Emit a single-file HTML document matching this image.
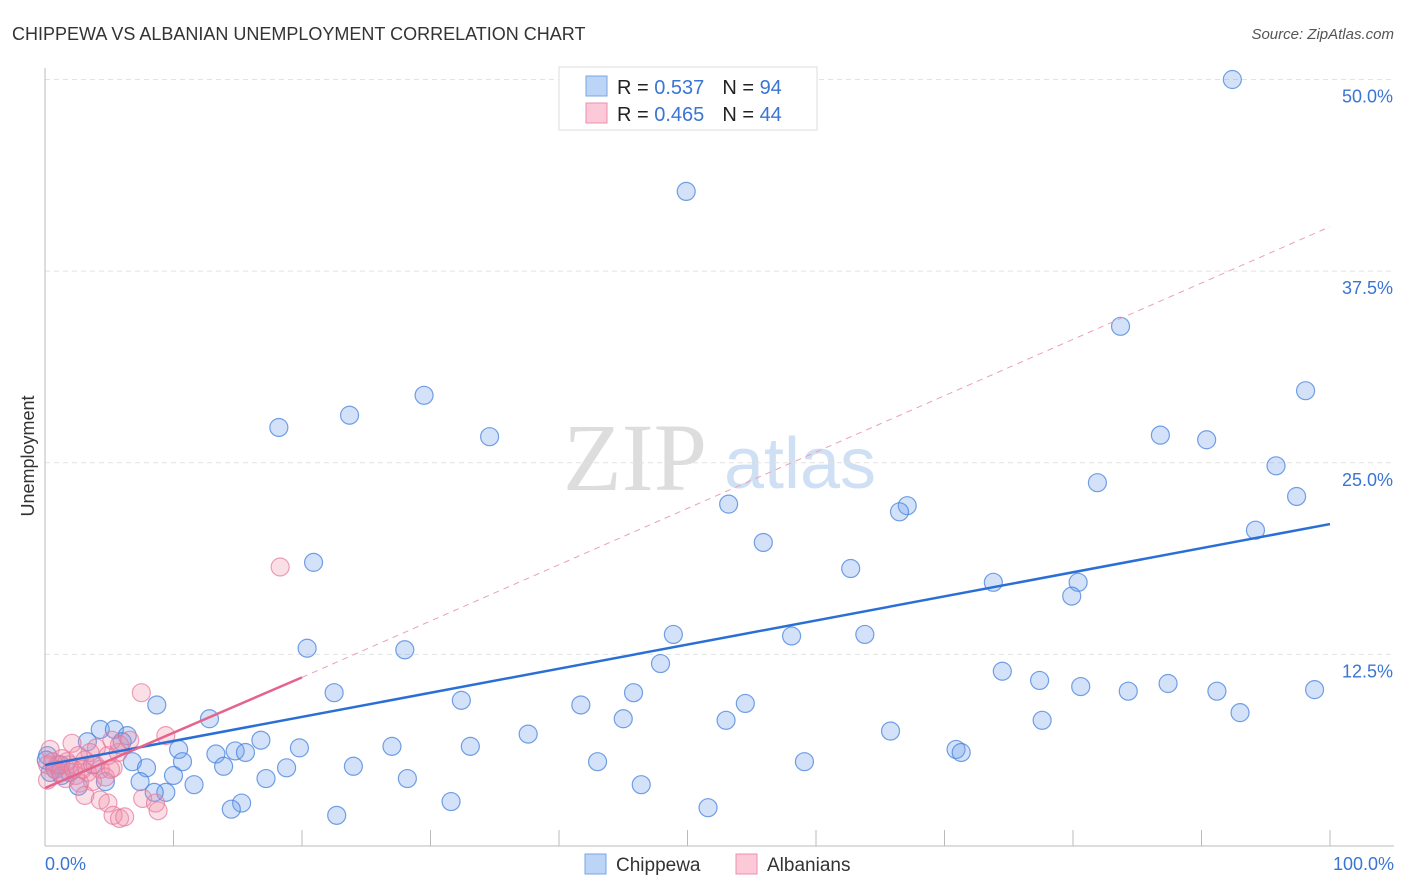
<!DOCTYPE html>
<html><head><meta charset="utf-8"><style>
body{margin:0;background:#fff;font-family:"Liberation Sans",sans-serif;}
svg{display:block}
</style></head><body>
<svg id="chart" width="1406" height="892">
<text x="12" y="40" font-size="18" fill="#333">CHIPPEWA VS ALBANIAN UNEMPLOYMENT CORRELATION CHART</text>
<text x="1394" y="39" font-size="15" fill="#555" font-style="italic" text-anchor="end">Source: ZipAtlas.com</text>
<text x="34" y="456" font-size="18" fill="#333" transform="rotate(-90 34 456)" text-anchor="middle">Unemployment</text>
<g>
<text x="635" y="490" font-size="96" font-family="Liberation Serif,serif" fill="#ddd" text-anchor="middle">ZIP</text>
<text x="800" y="488" font-size="72" fill="#cfe0f5" text-anchor="middle">atlas</text>
</g>
<g id="grid"></g>
<g id="marks"></g>
<g id="lines"></g>
<g>
<rect x="559" y="67" width="258" height="63" fill="#fff" stroke="#ddd"/>
<rect x="586" y="76" width="21" height="20" fill="#bcd4f5" stroke="#7aa6e6"/>
<text x="617" y="94" font-size="20" fill="#222">R = <tspan fill="#3a75d4">0.537</tspan><tspan dx="18">N = </tspan><tspan fill="#3a75d4">94</tspan></text>
<rect x="586" y="103" width="21" height="20" fill="#fbc9d8" stroke="#ec8fae"/>
<text x="617" y="121" font-size="20" fill="#222">R = <tspan fill="#3a75d4">0.465</tspan><tspan dx="18">N = </tspan><tspan fill="#3a75d4">44</tspan></text>
</g>
<g>
<rect x="585" y="854" width="21" height="20" fill="#bcd4f5" stroke="#7aa6e6"/>
<text x="616" y="871" font-size="19" fill="#333">Chippewa</text>
<rect x="736" y="854" width="21" height="20" fill="#fbc9d8" stroke="#ec8fae"/>
<text x="767" y="871" font-size="19" fill="#333">Albanians</text>
</g>
<text x="45" y="870" font-size="18" fill="#3a75d4">0.0%</text>
<text x="1394" y="870" font-size="18" fill="#3a75d4" text-anchor="end">100.0%</text>
</svg>
<script>
const yTicks=[12.5,25,37.5,50];
const yTickLabels=["12.5%","25.0%","37.5%","50.0%"];
const xTicks=[0,10,20,30,40,50,60,70,80,90,100];
const blueX=[92.4,49.9,83.7,98.1,29.5,23.7,18.2,34.6,86.8,90.4,95.8,81.9,97.4,53.2,67.1,66.5,94.2,55.9,20.9,62.7,73.8,80.4,79.9,48.9,58.1,63.8,20.4,28.0,47.9,74.5,77.4,80.6,84.3,87.4,91.2,98.8,22.5,45.8,32.4,41.7,54.5,8.7,93.0,12.8,45.0,53.0,77.6,65.8,37.6,16.8,4.3,5.4,6.4,6.0,3.3,10.4,27.0,19.8,33.1,13.3,14.8,15.6,70.9,71.3,10.7,13.9,43.0,59.1,6.8,7.9,24.0,18.8,10.0,17.2,28.2,7.4,11.6,46.4,2.6,4.7,9.4,8.5,15.3,14.5,31.6,51.6,22.7,0.2,0.8,1.3,1.9,0.4,3.7,1.2,0.1];
const blueY=[50.0,42.7,33.9,29.7,29.4,28.1,27.3,26.7,26.8,26.5,24.8,23.7,22.8,22.3,22.2,21.8,20.6,19.8,18.5,18.1,17.2,17.2,16.3,13.8,13.7,13.8,12.9,12.8,11.9,11.4,10.8,10.4,10.1,10.6,10.1,10.2,10.0,10.0,9.5,9.2,9.3,9.2,8.7,8.3,8.3,8.2,8.2,7.5,7.3,6.9,7.6,7.6,7.2,6.8,6.8,6.3,6.5,6.4,6.5,6.0,6.2,6.1,6.3,6.1,5.5,5.2,5.5,5.5,5.5,5.1,5.2,5.1,4.6,4.4,4.4,4.2,4.0,4.0,3.9,4.2,3.5,3.5,2.8,2.4,2.9,2.5,2.0,5.9,5.0,4.6,4.8,4.8,5.3,5.3,5.6];
const pinkX=[18.3,7.5,9.4,6.6,4.0,2.1,3.1,4.9,5.7,1.3,0.4,0.2,0.8,1.6,2.4,3.3,4.3,5.3,2.7,3.7,4.7,3.1,4.3,4.9,5.3,5.8,6.2,7.6,8.6,8.8,0.2,1.9,1.0,3.5,2.6,5.2,3.9,1.7,0.6,1.2,2.2,5.8,5.1,2.9];
const pinkY=[18.2,10.0,7.2,6.9,6.4,6.7,5.6,5.9,6.1,5.7,6.3,5.3,5.0,4.4,4.6,4.8,5.0,5.1,4.1,4.2,4.5,3.3,3.0,2.8,2.0,1.8,1.9,3.1,2.8,2.3,4.3,5.3,5.3,6.1,5.9,6.9,5.3,5.5,5.5,4.8,5.0,6.6,5.0,5.0];
const blueTrend=[5.28,21.0];
const pinkTrend=[3.78,11.0];
const pinkTrendEndX=20;
const pinkDashEnd=40.4;

const NS="http://www.w3.org/2000/svg";
const X=v=>45+v*12.85;
const Y=v=>846-v*15.33;
function mk(tag,attrs,parent){const e=document.createElementNS(NS,tag);for(const k in attrs)e.setAttribute(k,attrs[k]);parent.appendChild(e);return e;}
const grid=document.getElementById('grid'),marks=document.getElementById('marks'),lines=document.getElementById('lines');
yTicks.forEach((t,i)=>{
 const l=mk('line',{x1:45,x2:1394,y1:Y(t),y2:Y(t),stroke:'#e2e2e2','stroke-dasharray':'5,4'},grid);
 
 
 const tx=mk('text',{x:1393,y:Y(t)+23,'font-size':18,fill:'#3a75d4','text-anchor':'end'},grid);
 tx.textContent=yTickLabels[i];
 
 
});
const ax=mk('line',{x1:45,x2:45,y1:68,y2:846,stroke:'#bbb'},grid);


const bx=mk('line',{x1:45,x2:1394,y1:846,y2:846,stroke:'#bbb'},grid);


xTicks.forEach(t=>{
 const l=mk('line',{x1:X(t),x2:X(t),y1:830,y2:846,stroke:'#bbb'},grid);
 
 
});
blueX.forEach((v,i)=>{
 const c=mk('circle',{cx:X(v),cy:Y(blueY[i]),r:9,fill:'rgba(110,160,235,0.3)',stroke:'rgba(70,130,220,0.75)','stroke-width':1.2},marks);
 
 
});
pinkX.forEach((v,i)=>{
 const c=mk('circle',{cx:X(v),cy:Y(pinkY[i]),r:9,fill:'rgba(240,140,170,0.28)',stroke:'rgba(230,120,155,0.7)','stroke-width':1.2},marks);
 
 
});
const bt=mk('line',{x1:X(0),y1:Y(blueTrend[0]),x2:X(100),y2:Y(blueTrend[1]),stroke:'#2a6fd6','stroke-width':2.5},lines);


const pd=mk('line',{x1:X(pinkTrendEndX),y1:Y(pinkTrend[1]),x2:X(100),y2:Y(pinkDashEnd),stroke:'#eaa0b8','stroke-width':1,'stroke-dasharray':'6,5'},lines);


const pt=mk('line',{x1:X(0),y1:Y(pinkTrend[0]),x2:X(pinkTrendEndX),y2:Y(pinkTrend[1]),stroke:'#e5648c','stroke-width':2.5},lines);


</script>
</body></html>
